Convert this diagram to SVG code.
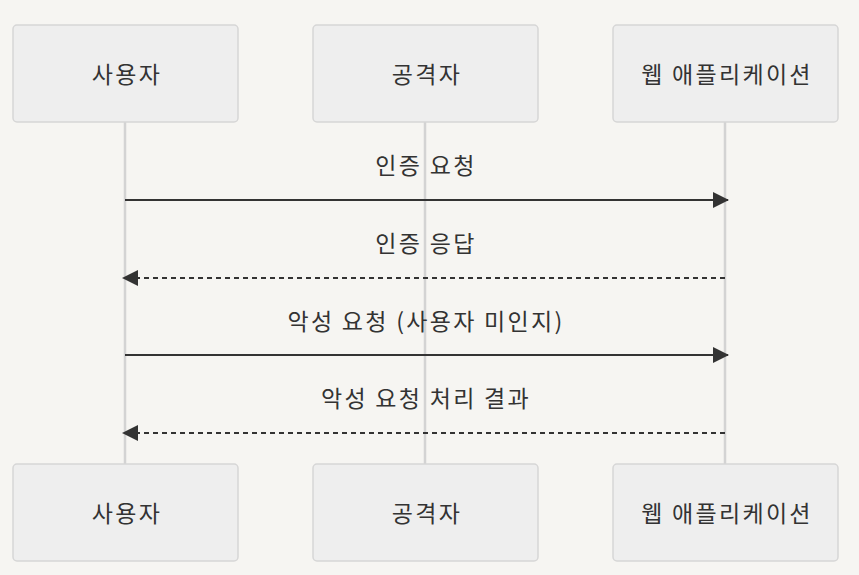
<svg xmlns="http://www.w3.org/2000/svg" width="859" height="575" viewBox="0 0 859 575">
<style>
.actor rect{fill:#eeeeee;stroke:#d6d6d6;stroke-width:1.5}
text{font-family:"Noto Sans CJK KR","Noto Sans",sans-serif;fill:#333333;font-size:23px;letter-spacing:2.3px;text-anchor:middle;dominant-baseline:central}
.life{stroke:#d3d3d3;stroke-width:2.5}
.msg{stroke:#333333;stroke-width:2;fill:none}
.dash{stroke-dasharray:5,4}
</style>
<defs>
<marker id="ah" viewBox="0 0 16 16" refX="15" refY="8" markerWidth="16" markerHeight="16" markerUnits="userSpaceOnUse" orient="auto-start-reverse">
<path d="M0,0 L16,8 L0,16 Z" fill="#333333"/>
</marker>
</defs>
<rect width="859" height="575" fill="#f6f5f2"/>
<g id="lifelines">
<line class="life" x1="125" y1="122" x2="125" y2="464"/>
<line class="life" x1="425" y1="122" x2="425" y2="464"/>
<line class="life" x1="725" y1="122" x2="725" y2="464"/>
</g>
<g id="actor-user-top" class="actor"><rect x="13" y="25" width="225" height="97" rx="4"/><text x="127" y="73">사용자</text></g>
<g id="actor-attacker-top" class="actor"><rect x="313" y="25" width="225" height="97" rx="4"/><text x="427" y="73">공격자</text></g>
<g id="actor-web-top" class="actor"><rect x="613" y="25" width="225" height="97" rx="4"/><text x="727" y="73">웹 애플리케이션</text></g>
<g id="actor-user-bottom" class="actor"><rect x="13" y="464" width="225" height="97" rx="4"/><text x="127" y="512">사용자</text></g>
<g id="actor-attacker-bottom" class="actor"><rect x="313" y="464" width="225" height="97" rx="4"/><text x="427" y="512">공격자</text></g>
<g id="actor-web-bottom" class="actor"><rect x="613" y="464" width="225" height="97" rx="4"/><text x="727" y="512">웹 애플리케이션</text></g>
<g id="connectors">
<line class="msg" x1="125" y1="200" x2="728" y2="200" marker-end="url(#ah)"/>
<text x="426" y="164">인증 요청</text>
<line class="msg dash" x1="725" y1="278" x2="123" y2="278" marker-end="url(#ah)"/>
<text x="426" y="242">인증 응답</text>
<line class="msg" x1="125" y1="355" x2="728" y2="355" marker-end="url(#ah)"/>
<text x="426" y="320">악성 요청 (사용자 미인지)</text>
<line class="msg dash" x1="725" y1="433" x2="123" y2="433" marker-end="url(#ah)"/>
<text x="426" y="397">악성 요청 처리 결과</text>
</g>
</svg>
